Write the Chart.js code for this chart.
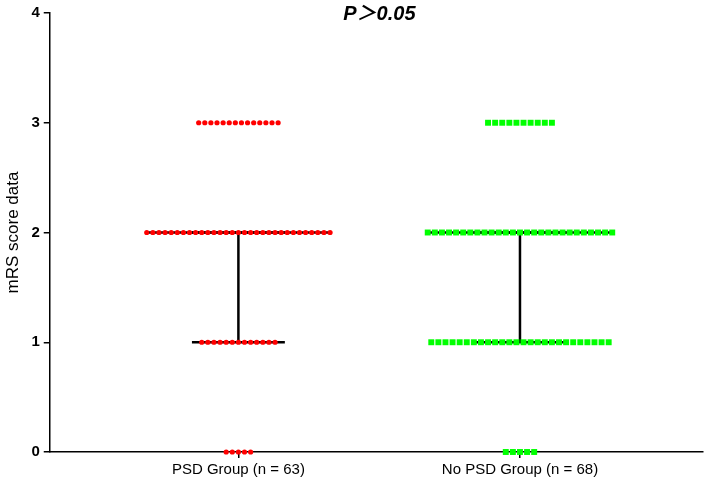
<!DOCTYPE html>
<html>
<head>
<meta charset="utf-8">
<script src="https://cdn.jsdelivr.net/npm/chart.js@4"></script>
<style>
  html, body { margin: 0; padding: 0; background: #fff; }
  #wrap { width: 708px; height: 488px; position: relative; }
</style>
</head>
<body>
<div id="wrap"><canvas id="chart"></canvas></div>
<script>
// mRS score dot plot — PSD vs No PSD (Chart.js scatter)

const groups = ["PSD Group (n = 63)", "No PSD Group (n = 68)"];
const scores = [0, 1, 2, 3];
const psdCounts = [5, 13, 31, 14];    // patients per score 0..3
const noPsdCounts = [5, 26, 27, 10];
const medians = [2, 2];
const q1 = [1, 1];
const q3 = [2, 2];
const pText = "P\uFF1E0.05";

const RED = "#ff0000";
const GREEN = "#00ff00";

// spread the dots of one row around the group's x position
function rowPoints(xc, counts, step) {
  const pts = [];
  scores.forEach((s, i) => {
    const n = counts[i];
    for (let k = 0; k < n; k++) pts.push({ x: xc + (k - (n - 1) / 2) * step, y: s });
  });
  return pts;
}

function seg(x0, y0, x1, y1) {
  return {
    type: "line",
    data: [{ x: x0, y: y0 }, { x: x1, y: y1 }],
    borderColor: "#000",
    borderWidth: 2.5,
    pointRadius: 0,
    showLine: true,
    order: 10,
  };
}

const lineSets = [];
[1, 2].forEach((xc, g) => {
  lineSets.push(seg(xc - 0.33, medians[g], xc + 0.33, medians[g]));
  lineSets.push(seg(xc, q1[g], xc, q3[g]));
  lineSets.push(seg(xc - 0.165, q1[g], xc + 0.165, q1[g]));
  lineSets.push(seg(xc - 0.165, q3[g], xc + 0.165, q3[g]));
});

const pTitle = {
  id: "pTitle",
  afterDraw(chart) {
    const { ctx, chartArea } = chart;
    ctx.save();
    ctx.font = "italic bold 20px Arial, 'Liberation Sans', 'Noto Sans CJK SC'";
    ctx.fillStyle = "#000";
    ctx.textAlign = "center";
    ctx.textBaseline = "middle";
    ctx.fillText(pText, (chartArea.left + chartArea.right) / 2 + 3, 14);
    ctx.restore();
  },
};

new Chart(document.getElementById("chart"), {
  type: "scatter",
  data: {
    datasets: [
      { data: rowPoints(1, psdCounts, 0.0217), backgroundColor: RED, borderWidth: 0, pointStyle: "circle", pointRadius: 2.6, order: 1, clip: false },
      { data: rowPoints(2, noPsdCounts, 0.0252), backgroundColor: GREEN, borderWidth: 0, pointStyle: "rect", pointRadius: 4.2, order: 1, clip: false },
      ...lineSets,
    ],
  },
  options: {
    responsive: true,
    maintainAspectRatio: false,
    animation: false,
    layout: { padding: { top: 9, right: 5, bottom: 6, left: 3 } },
    plugins: { legend: { display: false }, tooltip: { enabled: false } },
    scales: {
      x: {
        type: "linear",
        min: 0.33,
        max: 2.65,
        afterBuildTicks: (axis) => { axis.ticks = [{ value: 1 }, { value: 2 }]; },
        ticks: {
          color: "#000",
          font: { family: "Arial, 'Liberation Sans'", size: 15 },
          callback: (v) => groups[v - 1],
          padding: 3,
        },
        grid: { display: true, drawOnChartArea: false, drawTicks: true, tickLength: 6, color: "#000", lineWidth: 1.5 },
        border: { display: true, color: "#000", width: 1.5 },
      },
      y: {
        min: 0,
        max: 4,
        ticks: {
          stepSize: 1,
          color: "#000",
          font: { family: "Arial, 'Liberation Sans'", size: 15, weight: "bold" },
          padding: 4,
        },
        grid: { display: true, drawOnChartArea: false, drawTicks: true, tickLength: 6, color: "#000", lineWidth: 1.5 },
        border: { display: true, color: "#000", width: 1.5 },
        title: {
          display: true,
          text: "mRS score data",
          color: "#000",
          font: { family: "Arial, 'Liberation Sans'", size: 17 },
          padding: { top: 0, bottom: 4 },
        },
      },
    },
  },
  plugins: [pTitle],
});
</script>
</body>
</html>
